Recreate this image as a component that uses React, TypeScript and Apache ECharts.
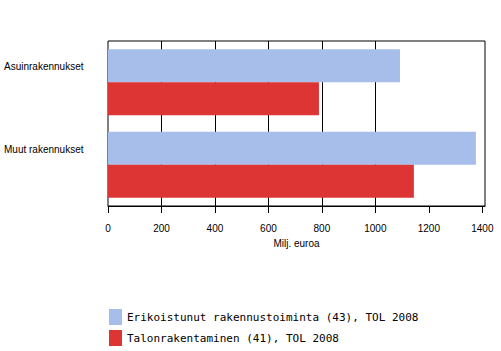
import React, { useEffect, useRef } from "react";
import * as echarts from "echarts";

const categories = ["Asuinrakennukset", "Muut rakennukset"];
const seriesNames = [
  "Erikoistunut rakennustoiminta (43), TOL 2008",
  "Talonrakentaminen (41), TOL 2008",
];
const erikoistunut = [1092, 1376];
const talonrakentaminen = [789, 1144];
const xTicks = [0, 200, 400, 600, 800, 1000, 1200, 1400];
const gridLineValues = [200, 400, 600, 800, 1000];
const axisName = "Milj. euroa";

export default function App() {
  const ref = useRef<HTMLDivElement>(null);
  useEffect(() => {
    if (!ref.current) return;
    const chart = echarts.init(ref.current, undefined, { renderer: "svg" });
    const labelFont = { fontFamily: "Liberation Sans, Arial, sans-serif", fontSize: 10, color: "#000" };
    const legendText = { fontFamily: "DejaVu Sans Mono, monospace", fontSize: 11, color: "#000" };
    chart.setOption({
      animation: false,
      backgroundColor: "#fff",
      grid: {
        left: 108,
        top: 41,
        right: 16,
        bottom: 145,
        show: true,
        borderColor: "#000",
        borderWidth: 1,
        containLabel: false,
      },
      xAxis: {
        type: "value",
        min: 0,
        max: 1410,
        position: "bottom",
        axisLine: { show: true, lineStyle: { color: "#000", width: 1 } },
        axisTick: { show: true, customValues: xTicks, length: 7, inside: false, lineStyle: { color: "#000", width: 1 } },
        axisLabel: { customValues: xTicks, margin: 17, formatter: (v: number) => String(v), ...labelFont },
        splitLine: { show: false },
        name: axisName,
        nameLocation: "middle",
        nameGap: 32,
        nameTextStyle: { ...labelFont },
      },
      yAxis: {
        type: "category",
        data: categories,
        inverse: true,
        axisLine: { show: false },
        axisTick: { show: false },
        splitLine: { show: false },
        axisLabel: {
          ...labelFont,
          align: "left",
          margin: 104,
          verticalAlign: "middle",
          lineHeight: 31,
          formatter: (v: string) => v + "\n ",
        },
      },
      legend: [
        {
          left: 104,
          top: 304,
          itemWidth: 13,
          itemHeight: 16,
          icon: "rect",
          textStyle: legendText,
          data: [seriesNames[0]],
        },
        {
          left: 104,
          top: 325,
          itemWidth: 13,
          itemHeight: 16,
          icon: "rect",
          textStyle: legendText,
          data: [seriesNames[1]],
        },
      ],
      series: [
        {
          name: seriesNames[0],
          type: "bar",
          data: erikoistunut,
          barCategoryGap: "20%",
          barGap: "0%",
          itemStyle: { color: "#a7bdea" },
          z: 2,
          markLine: {
            z: 1,
            silent: true,
            symbol: "none",
            label: { show: false },
            lineStyle: { color: "#000", type: "solid", width: 1 },
            data: gridLineValues.map((v) => ({ xAxis: v })),
          },
        },
        {
          name: seriesNames[1],
          type: "bar",
          data: talonrakentaminen,
          barCategoryGap: "20%",
          barGap: "0%",
          itemStyle: { color: "#dd3434" },
          z: 2,
        },
      ],
    });
    return () => chart.dispose();
  }, []);
  return (
    <div
      ref={ref}
      style={{ position: "fixed", left: 0, top: 0, width: 501, height: 351, background: "#fff" }}
    />
  );
}
